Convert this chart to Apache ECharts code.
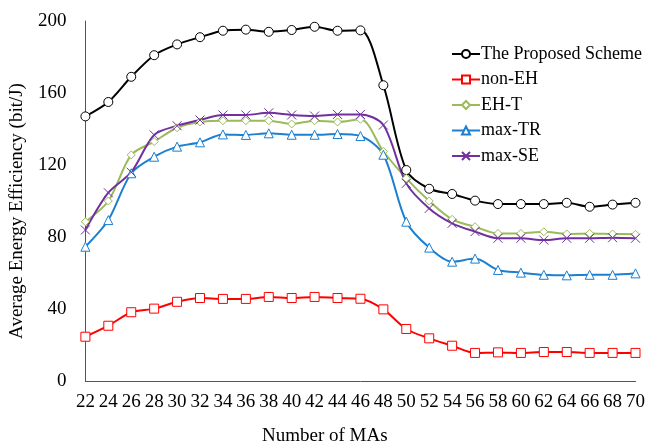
<!DOCTYPE html>
<html>
<head>
<meta charset="utf-8">
<script src="https://cdn.jsdelivr.net/npm/echarts@6/dist/echarts.min.js"></script>
<style>
  html, body { margin: 0; padding: 0; background: #fff; }
  #myChart { width: 648px; height: 444px; }
</style>
</head>
<body>
<div id="myChart"></div>
<script>
// x 轴：MA 数量
var numMAs = ['22','24','26','28','30','32','34','36','38','40','42','44','46','48','50','52','54','56','58','60','62','64','66','68','70'];
// 各方案能效 (bit/J)
var proposed = [147, 155, 169, 181, 187, 191, 194.6, 195.2, 194, 195, 196.8, 194.6, 194.8, 164.3, 117.2, 106.8, 103.9, 100.2, 98.3, 98.3, 98.3, 99, 96.8, 98, 99];
var nonEH    = [24.6, 30.7, 38.2, 40.2, 44, 46.1, 45.6, 45.6, 46.7, 46.1, 46.7, 46.1, 45.7, 39.8, 28.9, 23.7, 19.6, 15.6, 15.9, 15.6, 16.1, 16.1, 15.6, 15.6, 15.6];
var ehT      = [88.5, 100, 125.6, 133, 140.7, 143.9, 144.6, 144.6, 144.6, 142.8, 144.6, 143.9, 145.4, 127.5, 112.6, 100, 89.8, 85.7, 82, 82, 82.9, 81.7, 82, 81.7, 81.5];
var maxTR    = [74.6, 89.4, 115.4, 124.6, 130.2, 132.6, 137, 136.7, 137.6, 136.8, 136.8, 137.2, 136.1, 125.7, 88.5, 74.1, 66.3, 68, 61.7, 60.2, 59, 58.7, 59, 59, 59.8];
var maxSE    = [83.9, 104.6, 116, 136.7, 141.8, 145, 147.8, 147.8, 149, 147.8, 147.2, 148.1, 148.1, 142.2, 109.8, 95.9, 87.6, 83, 79.3, 79.3, 78.3, 79.3, 79.3, 79.6, 79.3];

var fontFamily = '"Liberation Serif", "Times New Roman", serif';

function makeSeries(name, data, color, symbol, size, fill) {
  return {
    name: name,
    type: 'line',
    data: data,
    smooth: 0.3,
    symbol: symbol,
    symbolSize: size,
    showAllSymbol: true,
    lineStyle: { color: color, width: 2 },
    itemStyle: { color: fill, borderColor: color, borderWidth: 1 },
    emphasis: { disabled: true }
  };
}

var option = {
  animation: false,
  textStyle: { fontFamily: fontFamily },
  grid: { left: 81, right: 11, top: 21, bottom: 63 },
  legend: {
    orient: 'vertical',
    left: 446,
    top: 40,
    itemWidth: 28,
    itemHeight: 10,
    itemGap: 7.5,
    textStyle: { fontFamily: fontFamily, fontSize: 18, color: '#000', padding: [0, 0, 0, -4] },
    data: ['The Proposed Scheme', 'non-EH', 'EH-T', 'max-TR', 'max-SE']
  },
  xAxis: {
    type: 'category',
    boundaryGap: false,
    data: numMAs,
    axisLine: { lineStyle: { color: '#555', width: 1 } },
    axisTick: { show: false },
    axisLabel: { interval: 0, color: '#000', fontSize: 19, margin: 12, fontFamily: fontFamily }
  },
  yAxis: {
    type: 'value',
    min: 0,
    max: 200,
    interval: 40,
    name: 'Average Energy Efficiency (bit/J)',
    nameLocation: 'middle',
    nameGap: 52,
    nameTextStyle: { fontSize: 19, color: '#000', fontFamily: fontFamily, padding: [0, 0, 0, -20] },
    axisLine: { show: true, lineStyle: { color: '#555', width: 1 } },
    axisTick: { show: false },
    splitLine: { show: false },
    axisLabel: { color: '#000', fontSize: 19, margin: 19, fontFamily: fontFamily }
  },
  graphic: [{
    type: 'text',
    left: 262,
    top: 427,
    style: { text: 'Number of MAs', fontSize: 19, fill: '#000', fontFamily: fontFamily }
  }],
  series: [
    makeSeries('The Proposed Scheme', proposed, '#000000', 'circle', 9, '#fff'),
    makeSeries('non-EH', nonEH, '#ff0000', 'rect', 9, '#fff'),
    makeSeries('EH-T', ehT, '#9bbb59', 'diamond', 8, '#fff'),
    makeSeries('max-TR', maxTR, '#1c7fd1', 'triangle', 9, '#fff'),
    makeSeries('max-SE', maxSE, '#7030a0', 'path://M0,0L10,10M10,0L0,10', 9, 'none')
  ]
};

var myChart = echarts.init(document.getElementById('myChart'));
myChart.setOption(option);
</script>
</body>
</html>
